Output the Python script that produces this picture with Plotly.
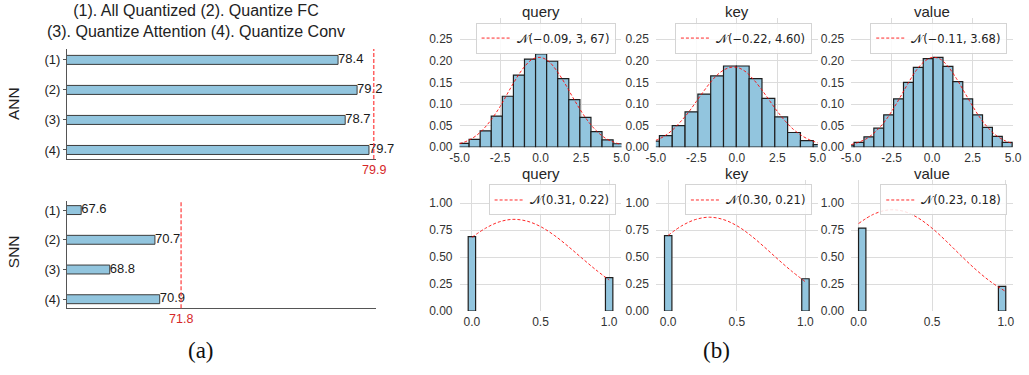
import plotly.graph_objects as go

# ---------------- data: panel (a) ----------------
cats = ["(1)", "(2)", "(3)", "(4)"]
ann_vals = [78.4, 79.2, 78.7, 79.7]
snn_vals = [67.6, 70.7, 68.8, 70.9]
ann_ref = 79.9
snn_ref = 71.8

# ---------------- data: panel (b), top row (histograms) ----------------
q_centers = [-4.752, -4.068, -3.384, -2.700, -2.016, -1.332, -0.648, 0.036,
             0.720, 1.404, 2.088, 2.772, 3.456, 4.140, 4.824]
q_heights = [0.009, 0.018, 0.038, 0.072, 0.118, 0.167, 0.204, 0.216,
             0.199, 0.159, 0.110, 0.069, 0.036, 0.017, 0.008]
q_binw = 0.684

k_centers = [-5.176, -4.384, -3.592, -2.801, -2.009, -1.218, -0.426, 0.365,
             1.157, 1.949, 2.740, 3.532, 4.324, 5.115]
k_heights = [0.014, 0.027, 0.050, 0.082, 0.123, 0.165, 0.188, 0.188,
             0.159, 0.113, 0.070, 0.034, 0.015, 0.006]
k_binw = 0.792

v_centers = [-5.125, -4.515, -3.905, -3.295, -2.685, -2.075, -1.465, -0.855,
             -0.245, 0.365, 0.975, 1.585, 2.195, 2.805, 3.415, 4.025, 4.635]
v_heights = [0.005, 0.011, 0.024, 0.044, 0.075, 0.112, 0.150, 0.185,
             0.205, 0.208, 0.187, 0.152, 0.112, 0.075, 0.046, 0.025, 0.011]
v_binw = 0.61

curve_x1 = [-5.0, -4.5, -4.0, -3.5, -3.0, -2.5, -2.0, -1.5, -1.0, -0.5, 0.0,
            0.5, 1.0, 1.5, 2.0, 2.5, 3.0, 3.5, 4.0, 4.5, 5.0]
q_curve = [0.008, 0.015, 0.026, 0.043, 0.066, 0.094, 0.127, 0.159, 0.186, 0.204,
           0.208, 0.199, 0.177, 0.148, 0.115, 0.084, 0.057, 0.036, 0.021, 0.012, 0.006]
k_curve = [0.016, 0.025, 0.039, 0.058, 0.080, 0.106, 0.132, 0.156, 0.174, 0.184,
           0.185, 0.176, 0.158, 0.135, 0.109, 0.083, 0.060, 0.041, 0.027, 0.017, 0.010]
v_curve = [0.006, 0.012, 0.021, 0.036, 0.056, 0.083, 0.114, 0.147, 0.177, 0.198,
           0.208, 0.204, 0.186, 0.159, 0.127, 0.095, 0.066, 0.043, 0.026, 0.015, 0.008]

# ---------------- data: panel (b), bottom row ----------------
q2_x = [0.0, 1.0]
q2_h = [0.69, 0.31]
q2_binw = 0.054
k2_x = [0.0, 1.0]
k2_h = [0.70, 0.30]
k2_binw = 0.054
v2_x = [0.025, 0.975]
v2_h = [0.77, 0.23]
v2_binw = 0.05

curve_x2 = [0.0, 0.1, 0.2, 0.3, 0.4, 0.5, 0.6, 0.7, 0.8, 0.9, 1.0]
q2_curve = [0.684, 0.769, 0.828, 0.851, 0.835, 0.784, 0.703, 0.602, 0.493, 0.386, 0.288]
k2_curve = [0.703, 0.792, 0.850, 0.871, 0.850, 0.792, 0.703, 0.595, 0.480, 0.370, 0.271]
v2_curve = [0.812, 0.897, 0.938, 0.928, 0.868, 0.768, 0.643, 0.509, 0.381, 0.270, 0.181]

titles = ["query", "key", "value"]
legend_top = ["𝒩(−0.09, 3, 67)", "𝒩(−0.22, 4.60)", "𝒩(−0.11, 3.68)"]
legend_bot = ["𝒩(0.31, 0.22)", "𝒩(0.30, 0.21)", "𝒩(0.23, 0.18)"]

top_ticks = [-5.0, -2.5, 0.0, 2.5, 5.0]
top_ticktext = ["-5.0", "-2.5", "0.0", "2.5", "5.0"]
top_yticks = [0.0, 0.05, 0.10, 0.15, 0.20, 0.25]
bot_ticks = [0.0, 0.5, 1.0]
bot_ticktext = ["0.0", "0.5", "1.0"]
bot_yticks = [0.0, 0.25, 0.5, 0.75, 1.0]

# ---------------- styling / geometry ----------------
W, H = 1029, 375
SANS = "Liberation Sans, Arial, sans-serif"
SERIF = "Liberation Serif, Times New Roman, serif"
BAR_FILL = "#92c5de"
RED = "#d62728"


def px_x(a, b):
    return [a / W, b / W]


def px_y(top, bottom):
    return [1 - bottom / H, 1 - top / H]


fig = go.Figure()

# ---------------- panel (a) ----------------
ypos = list(range(len(cats)))
for vals, xa, ya in [(ann_vals, "x", "y"), (snn_vals, "x2", "y2")]:
    fig.add_trace(go.Bar(
        x=vals, y=ypos, orientation="h", width=0.3,
        marker=dict(color=BAR_FILL, line=dict(color="#3c3c3c", width=1)),
        xaxis=xa, yaxis=ya, showlegend=False, hoverinfo="skip"))
    fig.add_trace(go.Scatter(
        x=vals, y=ypos, mode="text", text=[f"{v:.1f}" for v in vals],
        textposition="middle right",
        textfont=dict(family=SANS, size=13, color="#1a1a1a"),
        xaxis=xa, yaxis=ya, showlegend=False, hoverinfo="skip", cliponaxis=False))

left_dom = px_x(58, 373)
axis_a_common = dict(showgrid=False, zeroline=False)
fig.update_layout(
    xaxis=dict(domain=left_dom, range=[67, 80], anchor="y", showline=True,
               linecolor="#555", linewidth=1, showticklabels=False, ticks="",
               **axis_a_common),
    yaxis=dict(domain=px_y(50, 162), range=[3.3, -0.36], anchor="x",
               tickvals=ypos, ticktext=cats, showline=True, linecolor="#555",
               linewidth=1, ticks="outside", ticklen=3, tickcolor="#555",
               tickfont=dict(family=SANS, size=13, color="#222"),
               **axis_a_common),
    xaxis2=dict(domain=left_dom, range=[67, 80], anchor="y2", showline=True,
                linecolor="#555", linewidth=1, showticklabels=False, ticks="",
                **axis_a_common),
    yaxis2=dict(domain=px_y(205, 314), range=[3.3, -0.3], anchor="x2",
                tickvals=ypos, ticktext=cats, showline=True, linecolor="#555",
                linewidth=1, ticks="outside", ticklen=3, tickcolor="#555",
                tickfont=dict(family=SANS, size=13, color="#222"),
                **axis_a_common),
)

shapes = []
annotations = []
for ref, xa, ya in [(ann_ref, "x", "y"), (snn_ref, "x2", "y2")]:
    shapes.append(dict(type="line", xref=xa, yref=f"{ya} domain", x0=ref, x1=ref,
                       y0=0, y1=1, line=dict(color="rgba(255,70,70,0.85)", width=1.5,
                                              dash="4px,2px")))
    annotations.append(dict(xref=xa, yref=f"{ya} domain", x=ref, y=0, yanchor="top",
                            xanchor="center", yshift=-2, showarrow=False,
                            text=f"{ref:.1f}",
                            font=dict(family=SANS, size=12.5, color=RED)))

annotations += [
    dict(xref="paper", yref="paper", x=190 / W, y=1.0, yanchor="top",
         xanchor="center", showarrow=False,
         text="(1). All Quantized (2). Quantize FC<br>(3). Quantize Attention (4). Quantize Conv",
         font=dict(family=SANS, size=16, color="#222")),
    dict(xref="paper", yref="paper", x=3 / W, y=1 - 105 / H, textangle=-90,
         xanchor="center", yanchor="middle",
         showarrow=False, text="ANN", font=dict(family=SANS, size=15.5, color="#222")),
    dict(xref="paper", yref="paper", x=3 / W, y=1 - 256 / H, textangle=-90,
         xanchor="center", yanchor="middle",
         showarrow=False, text="SNN", font=dict(family=SANS, size=15.5, color="#222")),
    dict(xref="paper", yref="paper", x=195 / W, y=1 - 357 / H, showarrow=False,
         xanchor="center", yanchor="middle",
         text="(a)", font=dict(family=SERIF, size=23, color="#111")),
    dict(xref="paper", yref="paper", x=720 / W, y=1 - 357 / H, showarrow=False,
         xanchor="center", yanchor="middle",
         text="(b)", font=dict(family=SERIF, size=23, color="#111")),
]

# ---------------- panel (b) ----------------
col_px = [(458, 623), (658, 823), (857, 1022)]
row_px = [(18, 150), (183, 317)]

top_data = [(q_centers, q_heights, q_binw, q_curve),
            (k_centers, k_heights, k_binw, k_curve),
            (v_centers, v_heights, v_binw, v_curve)]
bot_data = [(q2_x, q2_h, q2_binw, q2_curve),
            (k2_x, k2_h, k2_binw, k2_curve),
            (v2_x, v2_h, v2_binw, v2_curve)]
bot_ranges = [[-0.09, 1.09], [-0.09, 1.09], [-0.05, 1.05]]

tick_font = dict(family=SANS, size=12, color="#333")
grid = "#dcdcdc"

axis_idx = 3
legend_idx = 1
layout_extra = {}
for r in range(2):
    for c in range(3):
        xa_name = f"xaxis{axis_idx}"
        ya_name = f"yaxis{axis_idx}"
        xa, ya = f"x{axis_idx}", f"y{axis_idx}"
        lg = "legend" if legend_idx == 1 else f"legend{legend_idx}"
        if r == 0:
            centers, heights, bw, curve = top_data[c]
            cx = curve_x1
            label = legend_top[c]
            xr = [-5, 5]
            xt, xtt = top_ticks, top_ticktext
            yr = [0, 0.30]
            yt = top_yticks
        else:
            centers, heights, bw, curve = bot_data[c]
            cx = curve_x2
            label = legend_bot[c]
            xr = bot_ranges[c]
            xt, xtt = bot_ticks, bot_ticktext
            yr = [0, 1.22]
            yt = bot_yticks

        fig.add_trace(go.Bar(
            x=centers, y=heights, width=bw,
            marker=dict(color=BAR_FILL, line=dict(color="#1e1e1e", width=1.2)),
            xaxis=xa, yaxis=ya, showlegend=False, hoverinfo="skip"))
        fig.add_trace(go.Scatter(
            x=cx, y=curve, mode="lines", line=dict(color="rgba(255,0,0,0.85)",
                                                  width=1, dash="3px,2px",
                                                  shape="spline"),
            name=label, legend=lg, xaxis=xa, yaxis=ya, hoverinfo="skip"))

        x0, x1 = col_px[c]
        t0, t1 = row_px[r]
        layout_extra[xa_name] = dict(
            domain=px_x(x0, x1), range=xr, anchor=ya, tickvals=xt, ticktext=xtt,
            showgrid=True, gridcolor=grid, gridwidth=1, zeroline=False,
            showline=False, ticks="", tickfont=tick_font, ticklabelstandoff=2)
        layout_extra[ya_name] = dict(
            domain=px_y(t0, t1), range=yr, anchor=xa, tickvals=yt, tickformat=".2f",
            showgrid=True, gridcolor=grid, gridwidth=1, zeroline=False,
            showline=False, ticks="", tickfont=tick_font, ticklabelstandoff=6)
        layout_extra[lg] = dict(
            x=(x1 - 6) / W, y=1 - (t0 + 5) / H, xanchor="right", yanchor="top",
            bgcolor="rgba(255,255,255,0.85)", bordercolor="#d4d4d4", borderwidth=1,
            font=dict(family="DejaVu Sans, sans-serif", size=11.5, color="#222"),
            itemwidth=30, tracegroupgap=0)
        annotations.append(dict(
            xref=f"{xa} domain", yref=f"{ya} domain", x=0.5, y=1, yanchor="bottom",
            xanchor="center", yshift=-4, showarrow=False, text=titles[c],
            font=dict(family=SANS, size=15, color="#262626")))
        axis_idx += 1
        legend_idx += 1

fig.update_layout(**layout_extra)
fig.update_layout(
    width=W, height=H, autosize=False,
    margin=dict(l=0, r=0, t=0, b=0),
    paper_bgcolor="white", plot_bgcolor="white",
    shapes=shapes, annotations=annotations,
    barmode="overlay",
)

fig.write_html("out.html")
